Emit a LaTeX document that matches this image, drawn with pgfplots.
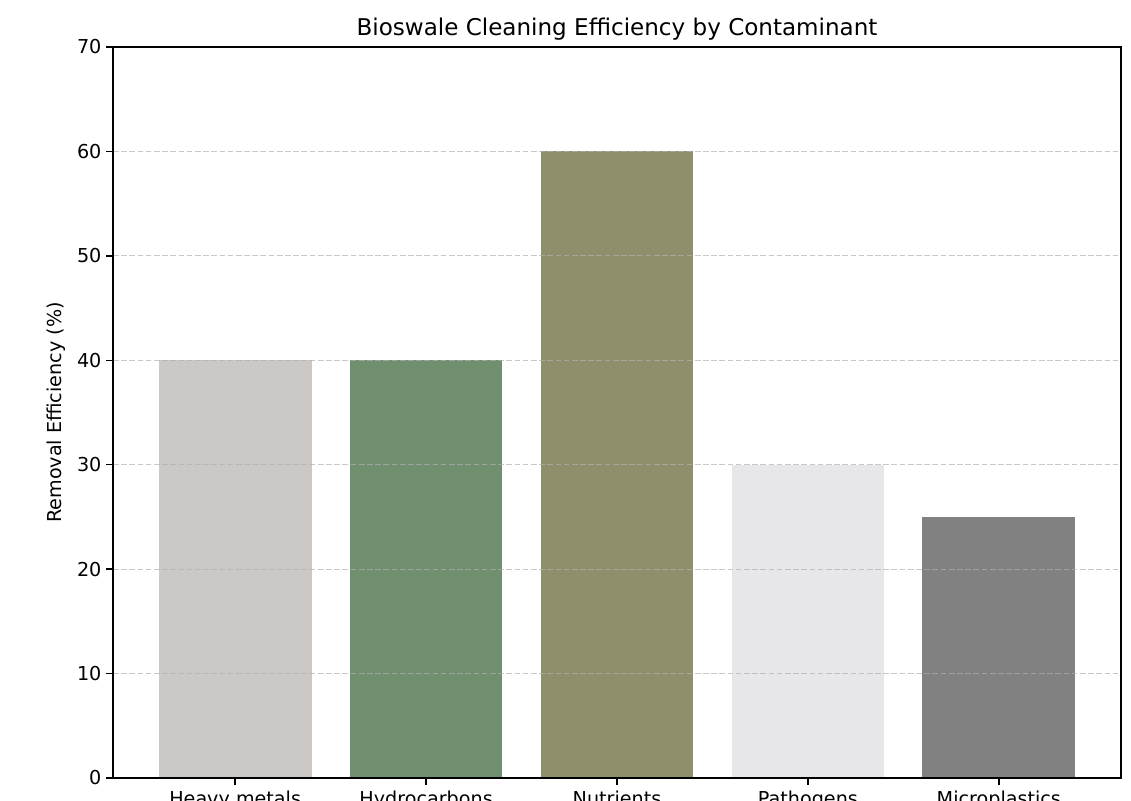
\documentclass[border=0pt]{standalone}
\usepackage{pgfplots}
\pgfplotsset{compat=1.18}
\usepackage{fontspec}
\setmainfont{DejaVu Sans}

\definecolor{barA}{RGB}{204,200,197}
\definecolor{barB}{RGB}{111,143,111}
\definecolor{barC}{RGB}{143,143,108}
\definecolor{barD}{RGB}{231,230,235}
\definecolor{barE}{RGB}{128,129,128}
\definecolor{gridc}{RGB}{176,176,176}

\begin{document}
\begin{tikzpicture}
\begin{axis}[
    scale only axis,
    width=725.76pt,
    height=526.32pt,
    xmin=-0.64, xmax=4.64,
    ymin=0, ymax=70,
    ytick={0,10,20,30,40,50,60,70},
    xtick={0,1,2,3,4},
    xticklabels={Heavy metals,Hydrocarbons,Nutrients,Pathogens,Microplastics},
    xtick pos=bottom, ytick pos=left,
    tick align=outside,
    major tick length=4.8pt,
    tick style={black, line width=1.1pt},
    axis line style={line width=1.1pt},
    tick label style={font=\fontsize{13.8}{16}\selectfont},
    x tick label style={yshift=-1pt},
    /pgf/number format/assume math mode=true,
    ymajorgrids,
    major grid style={gridc, opacity=0.7, line width=0.8pt, dash pattern=on 4.1pt off 1.8pt},
    axis on top,
    title={Bioswale Cleaning Efficiency by Contaminant},
    title style={font=\fontsize{16.6}{19}\selectfont, yshift=-4.5pt},
    ylabel={Removal Efficiency (\%)},
    ylabel style={font=\fontsize{13.8}{16}\selectfont, yshift=1.6pt},
    ybar, bar width=0.8, bar shift=0pt,
    area legend,
]
\addplot[fill=barA, draw=none] coordinates {(0,40)};
\addplot[fill=barB, draw=none] coordinates {(1,40)};
\addplot[fill=barC, draw=none] coordinates {(2,60)};
\addplot[fill=barD, draw=none] coordinates {(3,30)};
\addplot[fill=barE, draw=none] coordinates {(4,25)};
\end{axis}
\pgfresetboundingbox
\useasboundingbox ([xshift=-81.36pt,yshift=-16.56pt]current axis.south west) rectangle ([xshift=7.2pt,yshift=33.84pt]current axis.north east);
\end{tikzpicture}
\end{document}
